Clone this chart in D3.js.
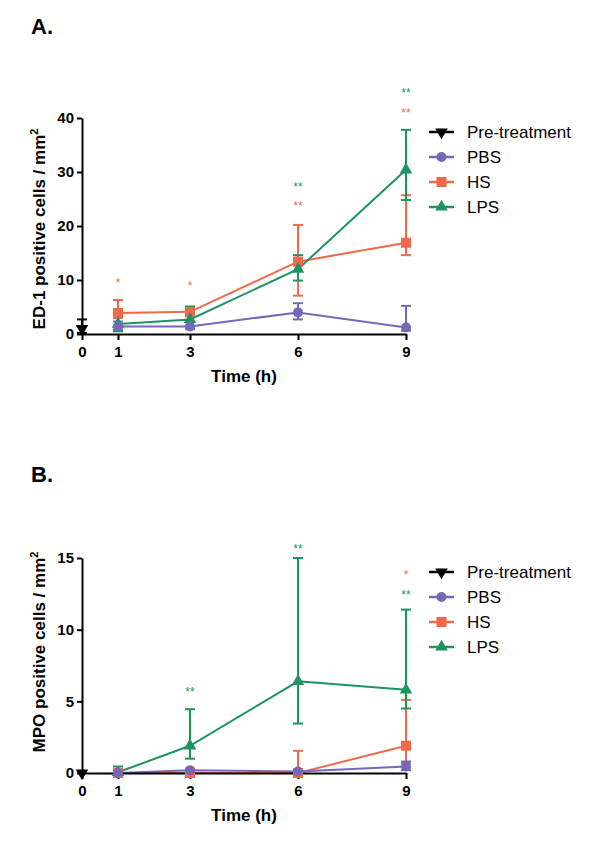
<!DOCTYPE html>
<html>
<head>
<meta charset="utf-8">
<style>
body { margin: 0; background: #fff; }
svg text { font-family: "Liberation Sans", Arial, sans-serif; }
.axis path, .axis line { stroke: #000; stroke-width: 2; }
.axis text { font-size: 15px; font-weight: bold; fill: #000; }
</style>
<script src="https://d3js.org/d3.v7.min.js"></script>
</head>
<body>
<svg width="600" height="854"></svg>
<script>
// time points (h) and series
var times = [1, 3, 6, 9];
var xTicks = [0, 1, 3, 6, 9];
var seriesNames = ["Pre-treatment", "PBS", "HS", "LPS"];
var seriesColors = ["#000000", "#7468b8", "#f06a4a", "#1c9460"];

// A. ED-1 positive cells / mm2
var edPreMean = [1.0], edPreHi = [2.7], edPreLo = [0.2];
var edPbsMean = [1.4, 1.4, 4.0, 1.2];
var edPbsHi   = [2.3, 2.2, 5.7, 5.2];
var edPbsLo   = [0.8, 0.9, 2.7, 0.6];
var edHsMean  = [3.9, 4.1, 13.4, 16.9];
var edHsHi    = [6.3, 5.0, 20.2, 25.7];
var edHsLo    = [3.0, 3.3, 7.1, 14.6];
var edLpsMean = [1.85, 2.7, 12.0, 30.4];
var edLpsHi   = [3.1, 5.1, 14.6, 37.8];
var edLpsLo   = [0.5, 1.5, 9.9, 24.8];
var edYTicks  = [0, 10, 20, 30, 40];
var edStarTime   = [1, 3, 6, 6, 9, 9];
var edStarText   = ["*", "*", "**", "**", "**", "**"];
var edStarSeries = ["HS", "HS", "LPS", "HS", "LPS", "HS"];
var edStarLevel  = [9.6, 9.1, 27.4, 23.9, 44.8, 41.1];

// B. MPO positive cells / mm2
var mpoPreMean = [0], mpoPreHi = [0], mpoPreLo = [0];
var mpoPbsMean = [0, 0.2, 0.1, 0.45];
var mpoPbsHi   = [0.1, 0.3, 0.2, 0.8];
var mpoPbsLo   = [0, 0.1, 0, 0.2];
var mpoHsMean  = [0, 0, 0, 1.9];
var mpoHsHi    = [0, 0, 1.55, 5.1];
var mpoHsLo    = [0, 0, 0, 0.7];
var mpoLpsMean = [0.05, 1.9, 6.4, 5.8];
var mpoLpsHi   = [0.45, 4.45, 15.0, 11.4];
var mpoLpsLo   = [0, 1.0, 3.45, 4.5];
var mpoYTicks  = [0, 5, 10, 15];
var mpoStarTime   = [3, 6, 9, 9];
var mpoStarText   = ["**", "**", "*", "**"];
var mpoStarSeries = ["LPS", "LPS", "HS", "LPS"];
var mpoStarLevel  = [5.7, 15.7, 13.9, 12.5];

var svg = d3.select("svg");

function makeSeries(pre, pbs, hs, lps) {
  // builds per-series point lists
  function pts(xs, m, hi, lo) {
    return xs.map(function(t, i) { return {t: t, m: m[i], hi: hi[i], lo: lo[i]}; });
  }
  return [
    {name: "HS", color: seriesColors[2], shape: "square", pts: pts(times, hs[0], hs[1], hs[2])},
    {name: "LPS", color: seriesColors[3], shape: "triangle", pts: pts(times, lps[0], lps[1], lps[2])},
    {name: "PBS", color: seriesColors[1], shape: "circle", pts: pts(times, pbs[0], pbs[1], pbs[2])},
    {name: "Pre-treatment", color: seriesColors[0], shape: "triangleDown", pts: pts([0], pre[0], pre[1], pre[2])}
  ];
}

function marker(g, shape, color, cx, cy) {
  if (shape == "circle") {
    g.append("circle").attr("cx", cx).attr("cy", cy).attr("r", 5).attr("fill", color);
  } else if (shape == "square") {
    g.append("rect").attr("x", cx - 5).attr("y", cy - 5).attr("width", 10).attr("height", 10).attr("fill", color);
  } else if (shape == "triangle") {
    g.append("path").attr("transform", "translate(" + cx + "," + cy + ")")
      .attr("d", d3.symbol().type(d3.symbolTriangle).size(68)).attr("fill", color);
  } else {
    g.append("path").attr("transform", "translate(" + cx + "," + cy + ") rotate(180)")
      .attr("d", d3.symbol().type(d3.symbolTriangle).size(68)).attr("fill", color);
  }
}

function drawPanel(opt) {
  var x = d3.scaleLinear().domain([0, 9]).range([82, 406]);
  var y = d3.scaleLinear().domain([0, opt.yMax]).range([opt.y0, opt.yTop]);
  var g = svg.append("g");

  g.append("text").attr("x", 31).attr("y", opt.titleY)
    .style("font-size", "22px").style("font-weight", "bold").text(opt.title);

  var series = opt.series;
  var colorOf = {};
  series.forEach(function(s) { colorOf[s.name] = s.color; });

  // error bars
  series.forEach(function(s) {
    s.pts.forEach(function(p) {
      if (p.hi == p.lo) return;
      var eb = g.append("g").attr("stroke", s.color).attr("stroke-width", 2);
      eb.append("line").attr("x1", x(p.t)).attr("x2", x(p.t)).attr("y1", y(p.hi)).attr("y2", y(p.lo));
      [p.hi, p.lo].forEach(function(v) {
        eb.append("line").attr("x1", x(p.t) - 5).attr("x2", x(p.t) + 5).attr("y1", y(v)).attr("y2", y(v));
      });
    });
  });

  // lines
  var line = d3.line().x(function(p) { return x(p.t); }).y(function(p) { return y(p.m); });
  series.forEach(function(s) {
    if (s.pts.length < 2) return;
    g.append("path").datum(s.pts).attr("d", line)
      .attr("fill", "none").attr("stroke", s.color).attr("stroke-width", 2);
  });

  // axes
  g.append("g").attr("class", "axis").attr("transform", "translate(0," + opt.y0 + ")")
    .call(d3.axisBottom(x).tickValues(xTicks).tickSize(6).tickSizeOuter(0).tickPadding(6));
  g.append("g").attr("class", "axis").attr("transform", "translate(82,0)")
    .call(d3.axisLeft(y).tickValues(opt.yTicks).tickSize(5).tickSizeOuter(0).tickPadding(3));

  // markers
  series.forEach(function(s) {
    s.pts.forEach(function(p) { marker(g, s.shape, s.color, x(p.t), y(p.m)); });
  });

  // significance stars
  opt.starTime.forEach(function(t, i) {
    g.append("text").attr("x", x(t)).attr("y", y(opt.starLevel[i]) + 5)
      .attr("text-anchor", "middle").style("font-size", "12px")
      .attr("fill", colorOf[opt.starSeries[i]]).text(opt.starText[i]);
  });

  // axis titles
  g.append("text").attr("x", 244).attr("y", opt.y0 + 48).attr("text-anchor", "middle")
    .style("font-size", "17px").style("font-weight", "bold").text("Time (h)");
  var yl = g.append("text")
    .attr("transform", "translate(45," + opt.yLabelC + ") rotate(-90)")
    .attr("text-anchor", "middle").style("font-size", "17px").style("font-weight", "bold");
  yl.append("tspan").text(opt.yLabel + " / mm");
  yl.append("tspan").attr("dy", -7).style("font-size", "11px").text("2");

  // legend
  seriesNames.forEach(function(n, i) {
    var c = colorOf[n];
    var s = series.filter(function(d) { return d.name == n; })[0];
    var ly = opt.legendY + i * 25;
    var lg = g.append("g");
    lg.append("line").attr("x1", 429).attr("x2", 454).attr("y1", ly).attr("y2", ly)
      .attr("stroke", c).attr("stroke-width", 2.5);
    marker(lg, s.shape, c, 441.5, ly);
    lg.append("text").attr("x", 467).attr("y", ly + 6).style("font-size", "17px").text(n);
  });
}

drawPanel({
  title: "A.", titleY: 34, y0: 334, yTop: 118, yMax: 40, yTicks: edYTicks,
  yLabel: "ED-1 positive cells", yLabelC: 229, legendY: 132,
  series: makeSeries([edPreMean, edPreHi, edPreLo], [edPbsMean, edPbsHi, edPbsLo],
                     [edHsMean, edHsHi, edHsLo], [edLpsMean, edLpsHi, edLpsLo]),
  starTime: edStarTime, starText: edStarText, starSeries: edStarSeries, starLevel: edStarLevel
});

drawPanel({
  title: "B.", titleY: 482, y0: 773, yTop: 558, yMax: 15, yTicks: mpoYTicks,
  yLabel: "MPO positive cells", yLabelC: 652, legendY: 572,
  series: makeSeries([mpoPreMean, mpoPreHi, mpoPreLo], [mpoPbsMean, mpoPbsHi, mpoPbsLo],
                     [mpoHsMean, mpoHsHi, mpoHsLo], [mpoLpsMean, mpoLpsHi, mpoLpsLo]),
  starTime: mpoStarTime, starText: mpoStarText, starSeries: mpoStarSeries, starLevel: mpoStarLevel
});
</script>
</body>
</html>
